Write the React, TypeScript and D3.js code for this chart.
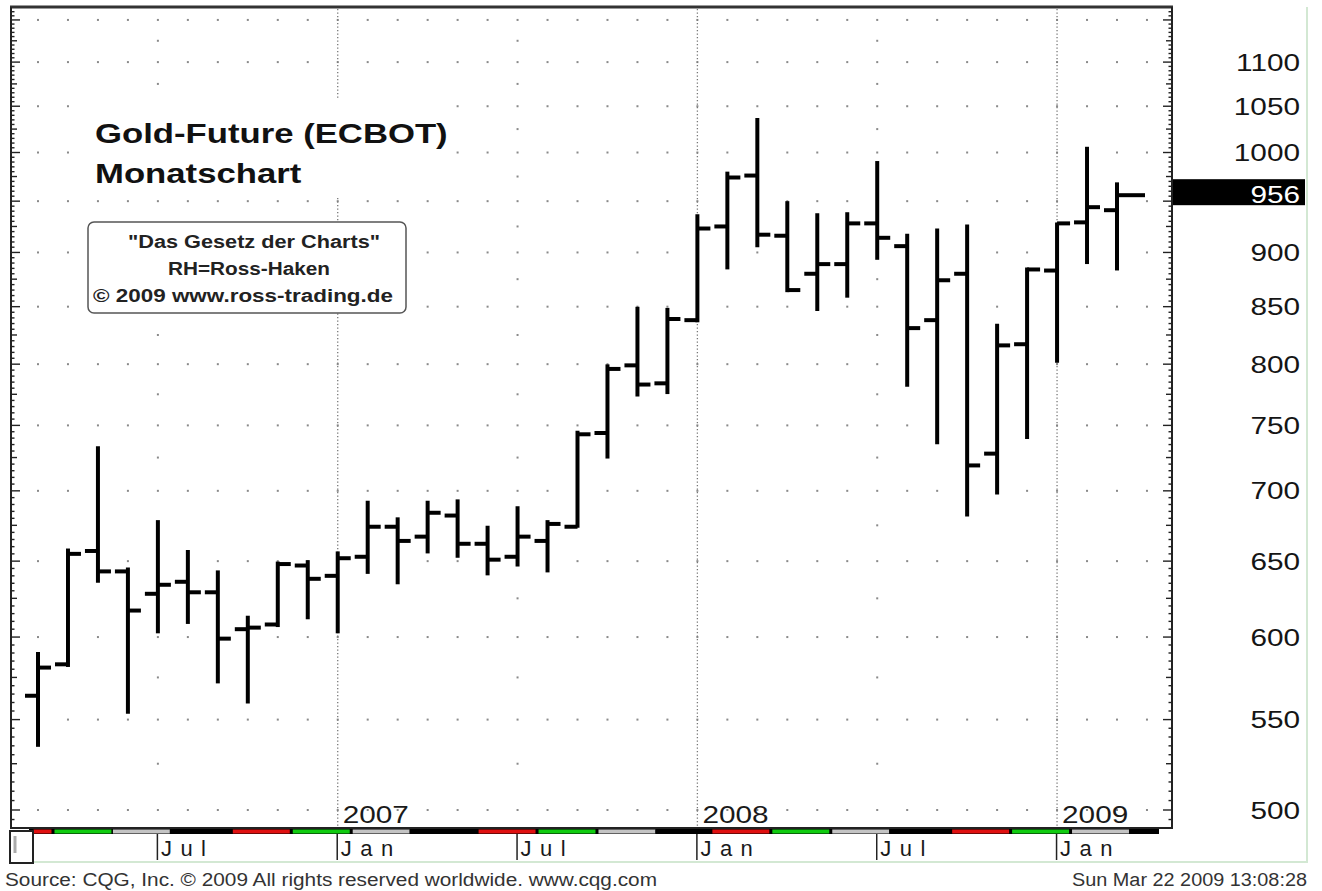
import React from 'react';
import * as d3 from 'd3';

// ---- data (monthly OHLC, Gold future, Mar 2006 .. Mar 2009) ----
const months = [
  'Mar 06', 'Apr 06', 'May 06', 'Jun 06', 'Jul 06', 'Aug 06', 'Sep 06', 'Oct 06', 'Nov 06', 'Dec 06',
  'Jan 07', 'Feb 07', 'Mar 07', 'Apr 07', 'May 07', 'Jun 07', 'Jul 07', 'Aug 07', 'Sep 07', 'Oct 07', 'Nov 07', 'Dec 07',
  'Jan 08', 'Feb 08', 'Mar 08', 'Apr 08', 'May 08', 'Jun 08', 'Jul 08', 'Aug 08', 'Sep 08', 'Oct 08', 'Nov 08', 'Dec 08',
  'Jan 09', 'Feb 09', 'Mar 09',
];
const opens = [564, 583, 657, 643, 628, 636, 629, 605, 608, 647, 640, 653, 674, 667, 682, 662, 653, 664, 674, 744, 799, 784, 838, 925, 976, 916, 880, 889, 928, 906, 838, 880, 728, 817, 883, 929, 941];
const highs = [590, 658, 733, 645, 678, 657, 643, 613, 649, 650, 656, 692, 680, 692, 693, 674, 688, 678, 745, 799, 849, 848, 936, 979, 1036, 949, 937, 938, 990, 917, 922, 926, 834, 885, 928, 1005, 968];
const lows = [535, 582, 636, 554, 603, 609, 572, 560, 607, 612, 603, 642, 635, 656, 653, 641, 647, 643, 674, 725, 774, 776, 837, 885, 906, 864, 847, 859, 894, 782, 736, 682, 698, 740, 802, 890, 884];
const closes = [581, 655, 643, 617, 634, 629, 599, 606, 648, 638, 652, 674, 664, 684, 662, 651, 667, 676, 743, 796, 783, 839, 923, 974, 917, 865, 889, 928, 914, 831, 874, 719, 816, 884, 928, 944, 956];

const priceLabels = [500, 550, 600, 650, 700, 750, 800, 850, 900, 1000, 1050, 1100];
const lastPrice = 956;

const monthTickIdx = [4, 10, 16, 22, 28, 34];
const monthTickText = ['Jul', 'Jan', 'Jul', 'Jan', 'Jul', 'Jan'];
const yearIdx = [10, 22, 34];
const yearText = ['2007', '2008', '2009'];

// cycle strip under the chart (month positions)
const stripColors = ['#e01010', '#10cc10', '#c4c4c4', '#000', '#e01010', '#10cc10', '#c4c4c4', '#000', '#e01010', '#10cc10', '#c4c4c4', '#000', '#e01010', '#10cc10', '#c4c4c4', '#000', '#e01010', '#10cc10', '#c4c4c4', '#000'];
const stripFrom = [-0.15, 0.55, 2.5, 4.4, 6.5, 8.5, 10.5, 12.4, 14.7, 16.7, 18.7, 20.6, 22.5, 24.5, 26.5, 28.4, 30.5, 32.5, 34.5, 36.4];
const stripTo = [0.45, 2.45, 4.4, 6.5, 8.4, 10.4, 12.4, 14.7, 16.6, 18.6, 20.6, 22.5, 24.4, 26.4, 28.4, 30.5, 32.4, 34.4, 36.4, 37.4];

const titleLines = ['Gold-Future (ECBOT)', 'Monatschart'];
const boxLines = ['"Das Gesetz der Charts"', 'RH=Ross-Haken', '\u00A9 2009  www.ross-trading.de'];
const sourceText = 'Source: CQG, Inc. \u00A9 2009 All rights reserved worldwide. www.cqg.com';
const dateText = 'Sun Mar 22 2009 13:08:28';

const FONT = '"Liberation Sans", Arial, Helvetica, sans-serif';

export default function App() {
  const W = 1322;
  const H = 891;
  const left = 11;
  const right = 1172;
  const top = 7;
  const bottom = 828;

  const x = d3.scaleLinear().domain([0, 36]).range([38, 1117]);
  const y = d3.scaleLog().domain([500, 1100]).range([810, 62.1]);

  const gridLevels = d3.range(500, 1151, 50);
  const halfLevels = d3.range(525, 1126, 50);
  const gridCols = d3.range(0, 38);
  const minor = d3.range(490, 1170, 5).filter((v) => y(v) > top + 2 && y(v) < bottom - 1);

  const tickLen = 13;
  const sx = 1.24;

  return (
    <svg
      width={W}
      height={H}
      viewBox={`0 0 ${W} ${H}`}
      style={{ position: 'fixed', left: 0, top: 0, background: '#fff', fontFamily: FONT }}
    >
      <rect x={0} y={0} width={W} height={H} fill="#fff" />

      {/* outer light frame */}
      <line x1={1307} y1={top} x2={1307} y2={862} stroke="#d3e8d3" strokeWidth={2} />
      <line x1={33} y1={862} x2={1308} y2={862} stroke="#d3e8d3" strokeWidth={2} />

      {/* grid dots */}
      <g fill="#8a8a8a">
        {gridLevels.map((v) =>
          gridCols.map((i) => (
            <rect key={`g${v}-${i}`} x={x(i) - 1} y={y(v) - 1} width={2} height={2} />
          ))
        )}
        {halfLevels.map((v) =>
          monthTickIdx
            .filter((_, k) => monthTickText[k] === 'Jul')
            .map((i) => <rect key={`h${v}-${i}`} x={x(i) - 1} y={y(v) - 1} width={2} height={2} />)
        )}
      </g>

      {/* year separators */}
      {yearIdx.map((i) => (
        <line
          key={`yl${i}`}
          x1={x(i)}
          x2={x(i)}
          y1={top + 2}
          y2={bottom}
          stroke="#777"
          strokeWidth={1.3}
          strokeDasharray="1.3 2.2"
        />
      ))}

      {/* title with white background */}
      <rect x={82} y={100} width={373} height={96} fill="#fff" />
      <text
        transform={`translate(95,143) scale(${sx},1)`}
        fontSize={28}
        fontWeight="bold"
        fill="#111"
      >
        {titleLines[0]}
      </text>
      <text
        transform={`translate(95,183) scale(${sx},1)`}
        fontSize={28}
        fontWeight="bold"
        fill="#111"
      >
        {titleLines[1]}
      </text>

      {/* info box */}
      <rect x={88} y={222} width={318} height={91} rx={6} ry={6} fill="#fff" stroke="#555" strokeWidth={1.5} />
      <text x={128} y={248} fontSize={18} fontWeight="bold" fill="#222" textLength={252} lengthAdjust="spacingAndGlyphs">
        {boxLines[0]}
      </text>
      <text x={168} y={275} fontSize={18} fontWeight="bold" fill="#222" textLength={162} lengthAdjust="spacingAndGlyphs">
        {boxLines[1]}
      </text>
      <text x={93} y={302} fontSize={18} fontWeight="bold" fill="#222" textLength={300} lengthAdjust="spacingAndGlyphs">
        {boxLines[2]}
      </text>

      {/* OHLC bars */}
      <g stroke="#000" strokeWidth={4} strokeLinecap="butt">
        {months.map((m, i) => {
          const cx = x(i);
          const last = i === months.length - 1;
          return (
            <g key={m}>
              <line x1={cx} x2={cx} y1={y(highs[i]) - 1} y2={y(lows[i]) + 1} />
              <line x1={cx - tickLen} x2={cx} y1={y(opens[i])} y2={y(opens[i])} />
              <line x1={cx} x2={cx + (last ? 28 : tickLen)} y1={y(closes[i])} y2={y(closes[i])} />
            </g>
          );
        })}
      </g>

      {/* year labels */}
      {yearIdx.map((i, k) => (
        <text
          key={`yt${i}`}
          transform={`translate(${x(i) + 5},823) scale(${sx},1)`}
          fontSize={24}
          fill="#1a1a1a"
        >
          {yearText[k]}
        </text>
      ))}

      {/* plot frame */}
      <line x1={left - 1} x2={right + 1} y1={top} y2={top} stroke="#333" strokeWidth={3} />
      <line x1={left} x2={left} y1={top} y2={bottom} stroke="#222" strokeWidth={2} />
      <line x1={right} x2={right} y1={top} y2={bottom} stroke="#222" strokeWidth={2} />
      <line x1={left - 1} x2={right + 1} y1={bottom} y2={bottom} stroke="#222" strokeWidth={2} />

      {/* axis ticks on both borders */}
      <g stroke="#222" strokeWidth={1.4}>
        {minor.map((v) => {
          const len = v % 50 === 0 ? 9 : v % 25 === 0 ? 6 : 3.5;
          return (
            <g key={`t${v}`}>
              <line x1={left} x2={left + len} y1={y(v)} y2={y(v)} />
              <line x1={right} x2={right - len} y1={y(v)} y2={y(v)} />
            </g>
          );
        })}
      </g>

      {/* price labels */}
      {priceLabels.map((v) => (
        <text
          key={`pl${v}`}
          transform={`translate(1300,${y(v) + 8.5}) scale(${sx},1)`}
          fontSize={24}
          textAnchor="end"
          fill="#151515"
        >
          {v}
        </text>
      ))}
      <rect x={right + 1} y={y(lastPrice) - 16} width={1305 - right - 1} height={26} fill="#000" />
      <text
        transform={`translate(1300,${y(lastPrice) + 7.5}) scale(${sx},1)`}
        fontSize={24}
        textAnchor="end"
        fill="#fff"
      >
        {lastPrice}
      </text>

      {/* cycle strip */}
      <rect x={x(-0.3)} y={bottom + 1} width={x(37.4) - x(-0.3)} height={5} fill="#000" />
      {stripColors.map((c, k) => (
        <rect
          key={`s${k}`}
          x={x(stripFrom[k])}
          y={bottom + 1.5}
          width={x(stripTo[k]) - x(stripFrom[k])}
          height={4}
          fill={c}
        />
      ))}

      {/* small box bottom-left */}
      <rect x={10} y={831} width={23} height={32} fill="#fff" stroke="#222" strokeWidth={2} />
      <line x1={15} x2={15} y1={836} y2={853} stroke="#aaa" strokeWidth={3} />

      {/* month ticks + labels */}
      {monthTickIdx.map((i, k) => (
        <g key={`mt${i}`}>
          <line x1={x(i) - 0.5} x2={x(i) - 0.5} y1={bottom + 6} y2={860} stroke="#222" strokeWidth={1.5} />
          <text x={x(i) + 3} y={856} fontSize={22} letterSpacing={8.5} fill="#1a1a1a">
            {monthTickText[k]}
          </text>
        </g>
      ))}

      {/* footer */}
      <text x={5} y={886} fontSize={18} fill="#333" textLength={652} lengthAdjust="spacingAndGlyphs">
        {sourceText}
      </text>
      <text x={1072} y={886} fontSize={18} fill="#333" textLength={235} lengthAdjust="spacingAndGlyphs">
        {dateText}
      </text>
    </svg>
  );
}
